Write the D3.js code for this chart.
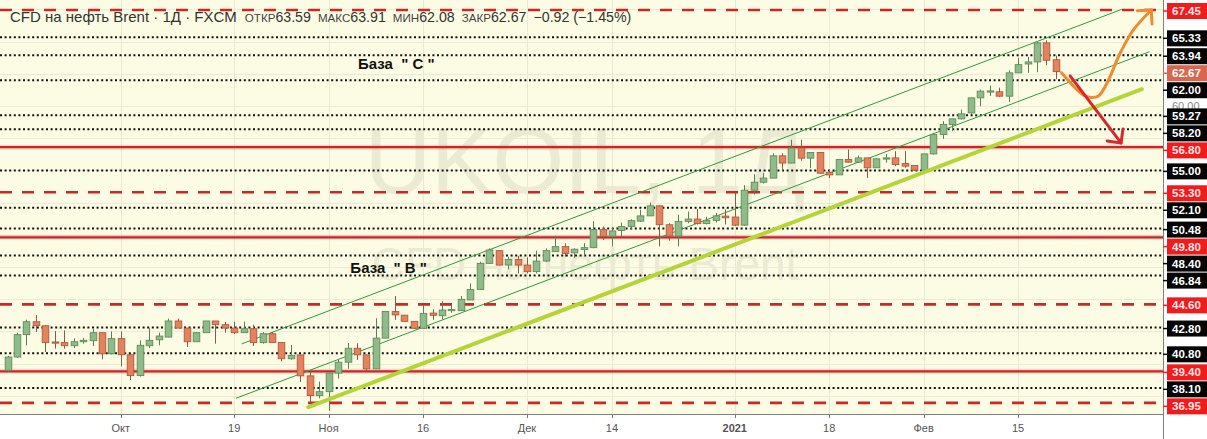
<!DOCTYPE html>
<html><head><meta charset="utf-8">
<script src="https://cdn.jsdelivr.net/npm/d3@7"></script>
<style>
html,body{margin:0;padding:0;background:#fff;}
svg{display:block;}
</style></head><body>
<svg id="chart" width="1207" height="439"></svg>
<script>
// ---- data (bar index 0 = 15 Sep 2020 ... 111 = 19 Feb 2021) ----
const opens = [39.48,40.51,42.25,43.25,42.94,41.68,41.63,41.39,41.70,41.78,42.40,40.77,41.94,40.69,39.07,41.39,41.85,42.06,43.31,42.76,
41.70,42.40,43.31,43.02,42.76,42.40,42.71,41.63,42.32,41.63,40.38,40.68,39.05,37.52,37.82,39.26,40.11,41.19,40.68,39.59,
41.98,44.04,43.76,43.28,42.74,43.92,43.72,44.16,44.11,44.94,45.76,47.78,48.77,47.65,48.09,47.65,47.14,47.96,48.69,49.08,
48.60,48.86,49.00,50.40,49.88,50.33,50.65,51.06,51.47,52.25,50.78,49.90,51.04,51.22,50.87,51.12,51.45,51.38,50.75,53.46,
54.08,54.40,56.13,55.57,56.74,55.95,56.39,54.86,54.65,55.84,55.64,55.97,55.20,55.92,55.97,55.53,55.38,55.02,56.28,57.78,
58.56,59.00,59.46,60.63,61.13,61.10,60.76,62.57,63.26,63.42,64.90,63.59];
const highs = [40.60,42.40,43.41,43.77,42.94,42.53,42.58,41.96,42.00,42.71,42.40,42.50,42.50,40.75,41.81,42.76,42.40,43.49,43.49,42.76,
42.40,43.31,43.31,43.23,43.25,43.25,43.02,42.45,42.45,41.63,41.45,40.68,39.38,38.60,39.26,40.31,41.60,41.58,40.68,43.52,
44.04,45.25,43.78,43.28,44.55,44.22,44.86,44.55,45.25,46.23,47.91,48.95,48.77,48.30,48.35,48.25,48.77,48.95,49.93,49.34,
48.95,49.35,51.06,50.64,50.60,50.95,51.20,51.94,52.50,52.25,50.90,51.55,51.80,52.00,51.40,51.70,51.96,53.26,53.85,54.70,
54.80,56.33,56.33,57.38,57.38,56.40,56.39,55.05,55.84,56.62,56.15,55.97,55.95,56.28,56.49,56.49,55.38,56.28,57.91,58.82,
59.00,59.72,60.63,61.27,61.58,61.42,62.77,63.73,63.81,64.95,65.10,63.91];
const lows = [39.35,40.45,41.42,42.45,40.90,41.16,41.16,41.21,41.55,41.37,40.33,40.77,39.79,38.73,39.00,41.21,41.42,42.06,42.76,41.29,
41.70,42.40,41.55,42.40,42.30,42.40,41.37,41.55,41.63,40.18,40.30,38.57,36.80,37.30,36.35,38.84,39.60,40.29,39.40,39.59,
41.98,43.40,43.26,42.70,42.74,43.40,43.45,43.95,44.11,44.94,45.76,47.78,47.65,47.32,47.00,47.00,47.00,47.90,48.69,48.30,
48.20,48.37,48.96,49.60,49.10,49.87,50.40,51.00,51.45,49.10,49.55,49.10,50.90,50.80,50.80,50.95,50.80,50.67,50.70,53.13,
53.98,54.40,54.96,55.55,55.75,55.17,54.75,54.40,54.65,55.60,55.58,54.42,55.20,55.60,55.33,55.20,54.95,55.02,56.23,57.45,
58.04,58.95,59.40,59.98,60.78,60.70,60.30,62.57,62.57,62.62,63.16,62.08];
const closes = [40.51,42.25,43.25,42.94,41.63,41.62,41.39,41.70,41.81,42.40,40.77,41.94,40.69,39.07,41.42,41.81,42.14,43.31,42.76,41.70,
42.40,43.31,43.02,42.76,42.40,42.71,41.63,42.32,41.63,40.38,40.64,39.05,37.52,37.82,39.26,40.11,41.19,40.68,39.59,41.98,
44.04,43.78,43.28,42.74,43.90,43.75,44.16,44.20,44.99,45.76,47.78,48.82,47.65,48.09,47.65,47.14,47.96,48.77,49.08,48.56,
48.88,49.00,50.40,49.88,50.30,50.65,51.10,51.47,52.25,50.78,49.90,51.04,51.22,50.87,51.12,51.47,51.32,50.75,53.46,54.08,
54.40,56.13,55.57,56.74,55.95,56.39,54.78,54.65,55.84,55.64,55.97,55.20,55.90,55.97,55.45,55.33,55.02,56.28,57.78,58.56,
59.00,59.39,60.63,61.15,61.17,60.76,62.57,63.21,63.42,64.90,63.55,62.67];

const tickIdx = [12,24,34,44,55,64,77,87,97,107];
const tickLabels = ["Окт","19","Ноя","16","Дек","14","2021","18","Фев","15"];

const solidLevels = [56.80,49.80,39.40];
const dashedLevels = [67.45,53.30,44.60,36.95];
const dottedLevels = [65.33,63.94,62.00,59.27,58.20,55.00,52.10,50.48,48.40,46.84,42.80,40.80,38.10];
const lastPrice = 62.67;
const axisTickValues = [60.00];
const gridPrices = [37.5,40,42.5,45,47.5,50,52.5,55,57.5,60,62.5,65,67.5];

const channelUpper = [[24.8,41.53],[117.97,67.50]];
const channelLower = [[24.19,37.31],[120.9,64.21]];
const trendLine = [[31.85,36.62],[120.1,61.30]];
const orangePath = [[111.6,62.58],[113.9,60.85],[114.7,60.66],[115.5,60.78],[116.4,61.76],[117.8,64.09],[119.2,65.90],[121.1,67.45]];
const redArrow = [[112.5,62.33],[117.9,57.13]];
const noteTexts = ['База  " С "','База  " В "'];
const noteIdx = [37.1,36.3];
const notePrice = [62.87,47.04];

const headerTitle = "CFD на нефть Brent · 1Д · FXCM";
const ohlcLabels = ["ОТКР","МАКС","МИН","ЗАКР"];
const ohlcValues = ["63.59","63.91","62.08","62.67"];
const changeText = "−0.92 (−1.45%)";

// ---- layout ----
const W = 1207, H = 439, plotR = 1163, plotB = 414;
const svg = d3.select("#chart");
const xs = d3.scaleLinear().domain([0,111]).range([7.5,1055.9]);
const ys = d3.scaleLinear().domain([36.95,67.45]).range([402.9,10]);
const FONT = "'Liberation Sans', Arial, sans-serif";

svg.append("rect").attr("width",W).attr("height",H).attr("fill","#ffffff");
svg.append("rect").attr("width",plotR).attr("height",plotB).attr("fill","#fcfce4");

svg.append("defs").append("clipPath").attr("id","clip")
  .append("rect").attr("width",plotR).attr("height",plotB);
const plot = svg.append("g").attr("clip-path","url(#clip)");

// grid
plot.selectAll(".vg").data(tickIdx).join("line")
  .attr("x1",d=>Math.round(xs(d))+0.5).attr("x2",d=>Math.round(xs(d))+0.5)
  .attr("y1",0).attr("y2",plotB).attr("stroke","#e9e8d2").attr("stroke-width",1);
plot.selectAll(".hg").data(gridPrices).join("line")
  .attr("x1",0).attr("x2",plotR)
  .attr("y1",d=>Math.round(ys(d))+0.5).attr("y2",d=>Math.round(ys(d))+0.5)
  .attr("stroke","#eceadb").attr("stroke-width",1);

// watermark
plot.append("text").attr("x",585).attr("y",193).attr("text-anchor","middle")
  .attr("font-family",FONT).attr("font-size",92).attr("fill","#ebead3").text("UKOIL, 1Д");
plot.append("text").attr("x",585).attr("y",280).attr("text-anchor","middle")
  .attr("font-family",FONT).attr("font-size",46).attr("fill","#ebead3").text("CFD на нефть Brent");

// levels
plot.selectAll(".dot").data(dottedLevels).join("line")
  .attr("x1",0).attr("x2",plotR)
  .attr("y1",d=>ys(d)).attr("y2",d=>ys(d))
  .attr("stroke","#111").attr("stroke-width",2).attr("stroke-dasharray","2 2.6");
plot.selectAll(".solidh").data(solidLevels).join("line")
  .attr("x1",0).attr("x2",plotR).attr("y1",d=>ys(d)).attr("y2",d=>ys(d))
  .attr("stroke","rgba(230,90,90,0.25)").attr("stroke-width",5);
plot.selectAll(".solid").data(solidLevels).join("line")
  .attr("x1",0).attr("x2",plotR).attr("y1",d=>ys(d)).attr("y2",d=>ys(d))
  .attr("stroke","#c62828").attr("stroke-width",2.2);
plot.selectAll(".dash").data(dashedLevels).join("line")
  .attr("x1",0).attr("x2",plotR).attr("y1",d=>ys(d)).attr("y2",d=>ys(d))
  .attr("stroke","#cc2727").attr("stroke-width",2.6).attr("stroke-dasharray","12 10");

// channel lines
const lineGen = d3.line().x(d=>xs(d[0])).y(d=>ys(d[1]));
[channelUpper, channelLower].forEach(seg=>{
  plot.append("path").attr("d",lineGen(seg)).attr("fill","none")
    .attr("stroke","#2f9a3a").attr("stroke-width",1);
});

// candles
const idx = d3.range(opens.length);
const bw = 6.6;
const g = plot.append("g");
g.selectAll(".wick").data(idx).join("line")
  .attr("x1",i=>Math.round(xs(i))+0.5).attr("x2",i=>Math.round(xs(i))+0.5)
  .attr("y1",i=>ys(highs[i])).attr("y2",i=>ys(lows[i]))
  .attr("stroke",i=>closes[i]>=opens[i]?"#5d7d58":"#8a5a44").attr("stroke-width",1);
g.selectAll(".body").data(idx).join("rect")
  .attr("x",i=>Math.round(xs(i))+0.5-bw/2)
  .attr("y",i=>ys(Math.max(opens[i],closes[i])))
  .attr("width",bw)
  .attr("height",i=>Math.max(1.2,Math.abs(ys(opens[i])-ys(closes[i]))))
  .attr("fill",i=>closes[i]>=opens[i]?"#8fba89":"#e3835d")
  .attr("stroke",i=>closes[i]>=opens[i]?"#5f8c59":"#b0573a").attr("stroke-width",0.9);

// trend line
plot.append("path").attr("d",lineGen(trendLine)).attr("fill","none")
  .attr("stroke","#b4d43a").attr("stroke-width",4).attr("stroke-linecap","round");

// arrows
function arrowHead(pts, color, w){
  const a = pts[pts.length-2], b = pts[pts.length-1];
  const x1=xs(a[0]), y1=ys(a[1]), x2=xs(b[0]), y2=ys(b[1]);
  const ang = Math.atan2(y2-y1,x2-x1), L=14, s=Math.PI/4;
  const p = [[x2+L*Math.cos(ang+Math.PI-s), y2+L*Math.sin(ang+Math.PI-s)],[x2,y2],
             [x2+L*Math.cos(ang+Math.PI+s), y2+L*Math.sin(ang+Math.PI+s)]];
  plot.append("path").attr("d",d3.line()(p)).attr("fill","none")
    .attr("stroke",color).attr("stroke-width",w).attr("stroke-linecap","round").attr("stroke-linejoin","round");
}
const curveGen = d3.line().x(d=>xs(d[0])).y(d=>ys(d[1])).curve(d3.curveCatmullRom.alpha(0.5));
plot.append("path").attr("d",curveGen(orangePath)).attr("fill","none")
  .attr("stroke","#f28a2e").attr("stroke-width",3).attr("stroke-linecap","round");
arrowHead(orangePath,"#f28a2e",3);
plot.append("path").attr("d",lineGen(redArrow)).attr("fill","none")
  .attr("stroke","#d6282b").attr("stroke-width",3).attr("stroke-linecap","round");
arrowHead(redArrow,"#d6282b",3);

// notes
plot.selectAll(".note").data(noteTexts).join("text")
  .attr("x",(d,i)=>xs(noteIdx[i])).attr("y",(d,i)=>ys(notePrice[i]))
  .attr("font-family",FONT).attr("font-size",15).attr("font-weight","bold")
  .attr("fill","#111").style("white-space","pre").text(d=>d);

// header
const hdr = svg.append("text").attr("x",10).attr("y",22).attr("fill","#333").attr("font-family",FONT);
hdr.append("tspan").attr("font-size",15).text(headerTitle);
ohlcLabels.forEach((lab,k)=>{
  hdr.append("tspan").attr("dx",k===0?8:7).attr("font-size",11.6).attr("fill","#444").text(lab);
  hdr.append("tspan").attr("font-size",14.2).attr("fill","#333").text(ohlcValues[k]);
});
hdr.append("tspan").attr("dx",7).attr("font-size",14.2).attr("fill","#333").text(changeText);

// axes
svg.append("line").attr("x1",0).attr("x2",plotR).attr("y1",plotB+0.5).attr("y2",plotB+0.5)
  .attr("stroke","#808080");
svg.append("line").attr("x1",plotR+0.5).attr("x2",plotR+0.5).attr("y1",0).attr("y2",H)
  .attr("stroke","#808080");
svg.selectAll(".xt").data(tickIdx).join("line")
  .attr("x1",d=>Math.round(xs(d))+0.5).attr("x2",d=>Math.round(xs(d))+0.5)
  .attr("y1",plotB).attr("y2",plotB+4).attr("stroke","#777");
svg.selectAll(".xl").data(tickIdx).join("text")
  .attr("x",d=>xs(d)).attr("y",432).attr("text-anchor","middle")
  .attr("font-family",FONT).attr("font-size",11)
  .attr("font-weight",(d,i)=>tickLabels[i]==="2021"?"bold":"normal")
  .attr("fill","#555").text((d,i)=>tickLabels[i]);

// regular price tick labels (partly covered)
svg.selectAll(".yt").data(axisTickValues).join("text")
  .attr("x",1172).attr("y",d=>ys(d)+4).attr("font-family",FONT).attr("font-size",11)
  .attr("fill","#888").text(d=>d.toFixed(2));

// price labels with collision avoidance
let labels = [];
solidLevels.forEach(p=>labels.push({p,bg:"#f21b1b",fg:"#ffe9e9"}));
dashedLevels.forEach(p=>labels.push({p,bg:"#f21b1b",fg:"#ffe9e9"}));
dottedLevels.forEach(p=>labels.push({p,bg:"#050505",fg:"#ffffff"}));
labels.push({p:lastPrice,bg:"#d9674f",fg:"#ffffff",last:true});
labels.sort((a,b)=>b.p-a.p);
let prev=-Infinity;
labels.forEach(l=>{ let y=Math.max(ys(l.p)+1,11); y=Math.max(y,prev+17); l.y=y; prev=y; });
const lg = svg.selectAll(".pl").data(labels).join("g");
lg.append("rect").attr("x",1167).attr("y",d=>d.y-8).attr("width",40).attr("height",16).attr("fill",d=>d.bg);
lg.append("line").attr("x1",1163).attr("x2",1168).attr("y1",d=>d.y).attr("y2",d=>d.y)
  .attr("stroke",d=>d.bg).attr("stroke-width",1.5);
lg.append("text").attr("x",1172).attr("y",d=>d.y+4).attr("font-family",FONT)
  .attr("font-size",11.5).attr("font-weight","bold").attr("fill",d=>d.fg).text(d=>d.p.toFixed(2));
</script>
</body></html>
